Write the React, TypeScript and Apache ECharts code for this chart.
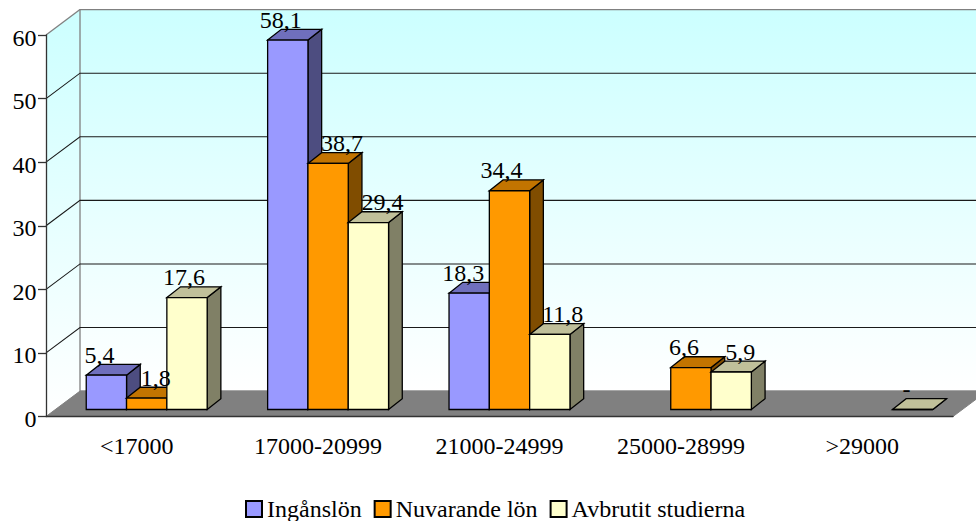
import React, { useEffect, useRef } from "react";
import * as echarts from "echarts";

const categories = ["<17000", "17000-20999", "21000-24999", "25000-28999", ">29000"];
const seriesNames = ["Ingånslön", "Nuvarande lön", "Avbrutit studierna"];
const ingangslon = [5.4, 58.1, 18.3, null, null];
const nuvarande = [1.8, 38.7, 34.4, 6.6, null];
const avbrutit = [17.6, 29.4, 11.8, 5.9, 0];
const yTicks = [0, 10, 20, 30, 40, 50, 60];
const labelShiftA = [-7, -7, -6, 0, 0];
const labelShiftB = [9, 14, -8, -7, 0];
const labelShiftC = [-3, 14, 13, 9, -6];
const faces = [
  { front: "#9999ff", top: "#6f6fbd", side: "#4d4d80" },
  { front: "#ff9900", top: "#c27400", side: "#804d00" },
  { front: "#ffffcc", top: "#c0c09a", side: "#808066" },
];

const FONT = '"Liberation Serif", "Times New Roman", serif';
const DEPTH_X = 34;
const DEPTH_Y = 25.4;
const GAP_X = 10;
const GAP_Y = 7;
const BAR_DX = 13.7;
const BAR_DY = 10.8;
const allValues = [ingangslon, nuvarande, avbrutit];
const allShifts = [labelShiftA, labelShiftB, labelShiftC];

const barLeft = (cx: number, band: number, s: number) => {
  const w = band / 4.5;
  return cx - (w * 3) / 2 + s * w + GAP_X;
};

const fmt = (v: number) => (v === 0 ? "-" : String(v).replace(".", ","));

const wallsRender = (_p: any, api: any) => {
  const band = api.size([1, 0])[0];
  const x0 = api.coord([0, 0])[0] - band / 2;
  const x1 = x0 + band * categories.length;
  const y0 = api.coord([0, 0])[1];
  const yT = api.coord([0, 60])[1];
  const grad = new echarts.graphic.LinearGradient(0, 0, 0, 1, [
    { offset: 0, color: "#ccffff" },
    { offset: 1, color: "#ffffff" },
  ]);
  const children: any[] = [
    {
      type: "polygon",
      shape: { points: [[x0, y0], [x0, yT], [x0 + DEPTH_X, yT - DEPTH_Y], [x0 + DEPTH_X, y0 - DEPTH_Y]] },
      style: { fill: grad, stroke: "none" },
    },
    {
      type: "rect",
      shape: { x: x0 + DEPTH_X, y: yT - DEPTH_Y, width: x1 - x0, height: y0 - yT },
      style: { fill: grad, stroke: "#808080", lineWidth: 1.3 },
    },
    {
      type: "polygon",
      shape: { points: [[x0, y0], [x0 + DEPTH_X, y0 - DEPTH_Y], [x1 + DEPTH_X, y0 - DEPTH_Y], [x1, y0]] },
      style: { fill: "#808080", stroke: "#808080", lineWidth: 1 },
    },
    {
      type: "polyline",
      shape: { points: [[x0, yT], [x0 + DEPTH_X, yT - DEPTH_Y]] },
      style: { fill: "none", stroke: "#808080", lineWidth: 1.3 },
    },
  ];
  yTicks.slice(1, -1).forEach((t) => {
    const y = api.coord([0, t])[1];
    children.push({
      type: "polyline",
      shape: { points: [[x0, y], [x0 + DEPTH_X, y - DEPTH_Y], [x1 + DEPTH_X, y - DEPTH_Y]] },
      style: { fill: "none", stroke: "#1a1a1a", lineWidth: 1.1 },
    });
  });
  return { type: "group", children };
};

const barRender = (s: number) => (_p: any, api: any) => {
  const idx = api.value(0);
  const val = api.value(1);
  const band = api.size([1, 0])[0];
  const w = band / 4.5;
  const base = api.coord([idx, 0]);
  const tip = api.coord([idx, val]);
  const l = barLeft(base[0], band, s);
  const r = l + w;
  const b = base[1] - GAP_Y;
  const t = tip[1] - GAP_Y;
  const f = faces[s];
  const edge = { stroke: "#000", lineWidth: 1.3, lineJoin: "miter" };
  return {
    type: "group",
    children: [
      {
        type: "polygon",
        shape: { points: [[r, b], [r + BAR_DX, b - BAR_DY], [r + BAR_DX, t - BAR_DY], [r, t]] },
        style: { fill: f.side, ...edge },
      },
      {
        type: "polygon",
        shape: { points: [[l, t], [l + BAR_DX, t - BAR_DY], [r + BAR_DX, t - BAR_DY], [r, t]] },
        style: { fill: f.top, ...edge },
      },
      {
        type: "rect",
        shape: { x: l, y: t, width: w, height: b - t },
        style: { fill: f.front, ...edge },
      },
    ],
  };
};

const labelRender = (_p: any, api: any) => {
  const idx = api.value(0);
  const val = api.value(1);
  const s = api.value(2);
  const band = api.size([1, 0])[0];
  const w = band / 4.5;
  const tip = api.coord([idx, val]);
  const cx = barLeft(tip[0], band, s) + w / 2 + allShifts[s][idx];
  return {
    type: "text",
    style: {
      text: fmt(val),
      x: cx,
      y: tip[1] - GAP_Y - BAR_DY - 9.5,
      align: "center",
      verticalAlign: "middle",
      fill: "#000",
      font: `24px ${FONT}`,
    },
  };
};

const toPairs = (arr: (number | null)[]) =>
  arr.map((v, i) => (v === null ? null : [i, v])).filter(Boolean);

const labelData = allValues.flatMap((arr, s) =>
  arr.map((v, i) => (v === null ? null : [i, v, s])).filter(Boolean)
);

export default function App() {
  const ref = useRef<HTMLDivElement>(null);
  useEffect(() => {
    document.body.style.margin = "0";
    document.body.style.overflow = "hidden";
    const chart = echarts.init(ref.current!, null, { renderer: "svg" });
    chart.setOption({
      animation: false,
      backgroundColor: "#ffffff",
      textStyle: { fontFamily: FONT },
      grid: { left: 46, top: 35, width: 907, height: 381.5, containLabel: false },
      legend: {
        data: seriesNames,
        left: 245,
        top: 497,
        padding: 0,
        itemWidth: 16,
        itemHeight: 16,
        itemGap: 12,
        icon: "rect",
        selectedMode: false,
        textStyle: { fontFamily: FONT, fontSize: 24, color: "#000" },
      },
      xAxis: {
        type: "category",
        data: categories,
        z: 5,
        axisLine: { lineStyle: { color: "#333", width: 1.3 } },
        axisTick: { alignWithLabel: false, length: 7, lineStyle: { color: "#333", width: 1.3 } },
        axisLabel: { color: "#000", fontFamily: FONT, fontSize: 24, margin: 17, interval: 0 },
      },
      yAxis: {
        type: "value",
        min: 0,
        max: 60,
        interval: 10,
        z: 5,
        splitLine: { show: false },
        axisLine: { show: true, lineStyle: { color: "#333", width: 1.3 } },
        axisTick: { show: true, length: 8, lineStyle: { color: "#333", width: 1.3 } },
        axisLabel: { color: "#000", fontFamily: FONT, fontSize: 24, margin: 9.5, verticalAlign: "top", lineHeight: 5 },
      },
      series: [
        { type: "custom", name: "walls", silent: true, z: 1, renderItem: wallsRender, data: [[0, 0]], encode: { x: 0, y: 1 } },
        ...seriesNames.map((name, s) => ({
          type: "custom",
          name,
          z: 2 + s,
          renderItem: barRender(s),
          itemStyle: { color: faces[s].front, borderColor: "#000", borderWidth: 1.3 },
          data: toPairs(allValues[s]),
          encode: { x: 0, y: 1 },
        })),
        { type: "custom", name: "labels", silent: true, z: 6, renderItem: labelRender, data: labelData, encode: { x: 0, y: 1 } },
      ],
    });
    return () => chart.dispose();
  }, []);
  return <div ref={ref} style={{ position: "absolute", left: 0, top: 0, width: 976, height: 521 }} />;
}
